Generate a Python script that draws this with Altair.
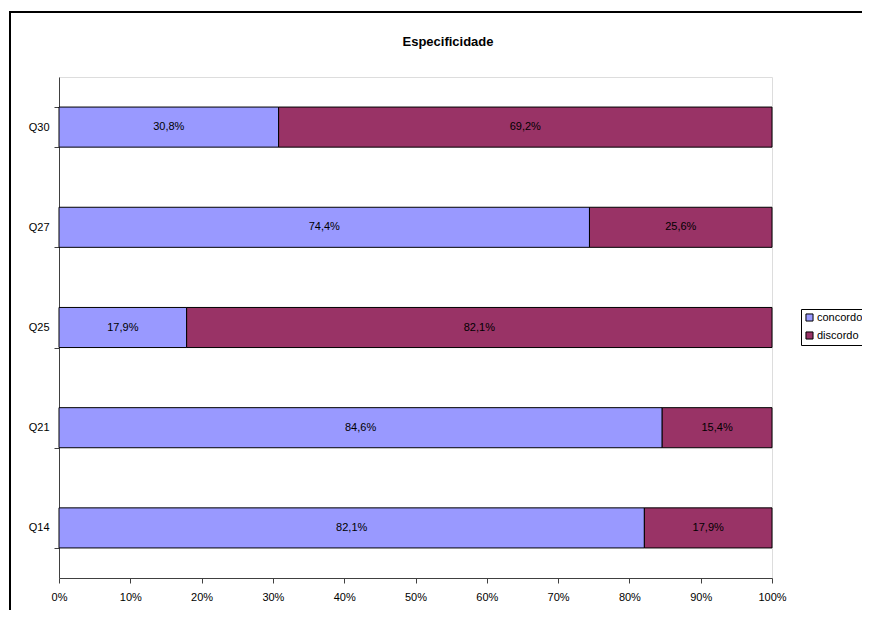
import altair as alt
import pandas as pd

title_text = "Especificidade"
questions = ["Q30", "Q27", "Q25", "Q21", "Q14"]
concordo = [30.8, 74.4, 17.9, 84.6, 82.1]
discordo = [69.2, 25.6, 82.1, 15.4, 17.9]
series = ["concordo", "discordo"]
colors = ["#9999FF", "#993366"]
x_ticks = [0, 0.1, 0.2, 0.3, 0.4, 0.5, 0.6, 0.7, 0.8, 0.9, 1.0]


def fmt(v):
    return f"{v:.1f}%".replace(".", ",")


rows = []
for q, c, d in zip(questions, concordo, discordo):
    rows.append({"q": q, "serie": "concordo", "v": c / 100, "ordem": 0, "label": fmt(c)})
    rows.append({"q": q, "serie": "discordo", "v": d / 100, "ordem": 1, "label": fmt(d)})
df = pd.DataFrame(rows)

FONT = "Liberation Sans"

base = (
    alt.Chart(df)
    .transform_stack(stack="v", groupby=["q"], as_=["v0", "v1"], sort=[alt.SortField("ordem")])
    .transform_calculate(mid="(datum.v0 + datum.v1) / 2")
)

yenc = alt.Y(
    "q:N",
    sort=questions,
    scale=alt.Scale(paddingInner=0.6, paddingOuter=0.3),
    axis=alt.Axis(
        title=None,
        tickBand="extent",
        tickSize=5,
        labelPadding=5,
        grid=False,
        domainColor="#404040",
        tickColor="#404040",
        labelFontSize=11,
        labelColor="black",
    ),
)

bars = base.mark_bar(stroke="black", strokeWidth=1).encode(
    y=yenc,
    x=alt.X(
        "v0:Q",
        scale=alt.Scale(domain=[0, 1], nice=False),
        axis=alt.Axis(
            title=None,
            values=x_ticks,
            format=".0%",
            grid=False,
            tickSize=5,
            labelPadding=8,
            domainColor="#404040",
            tickColor="#404040",
            labelFontSize=11,
            labelColor="black",
            labelFlush=False,
        ),
    ),
    x2="v1:Q",
    color=alt.Color(
        "serie:N",
        scale=alt.Scale(domain=series, range=colors),
        legend=alt.Legend(
            title=None,
            orient="none",
            legendX=742,
            legendY=232,
            strokeColor="black",
            padding=3,
            symbolType="square",
            symbolSize=50,
            symbolStrokeColor="black",
            symbolStrokeWidth=1,
            labelFontSize=11,
            labelOffset=2,
            rowPadding=5,
            labelColor="black",
        ),
    ),
)

labels = base.mark_text(fontSize=11, font=FONT, color="black").encode(
    y=alt.Y("q:N", sort=questions),
    x=alt.X("mid:Q"),
    text="label:N",
)

frame_df = pd.DataFrame({"k": [0]})
frame_left = alt.Chart(frame_df).mark_rule(color="black", strokeWidth=2).encode(
    x=alt.value(-49), y=alt.value(-65), y2=alt.value(560)
)
frame_top = alt.Chart(frame_df).mark_rule(color="black", strokeWidth=2).encode(
    x=alt.value(-50), x2=alt.value(900), y=alt.value(-65)
)
title_mark = alt.Chart(frame_df).mark_text(
    fontSize=13, fontWeight="bold", font=FONT, color="black", baseline="middle", align="center"
).encode(x=alt.value(389), y=alt.value(-35), text=alt.value(title_text))

chart = (
    alt.layer(bars, labels, frame_left, frame_top, title_mark)
    .properties(
        width=713,
        height=501,
        autosize="none",
        padding={"left": 51, "top": 69, "right": 90, "bottom": 32},
        background="white",
    )
    .configure_view(stroke="#A6A6A6", strokeWidth=2)
    .configure(font=FONT)
    .configure_axis(labelFont=FONT)
    .configure_legend(labelFont=FONT)
)

chart.save("out.html", embed_options={"renderer": "svg", "actions": False})
